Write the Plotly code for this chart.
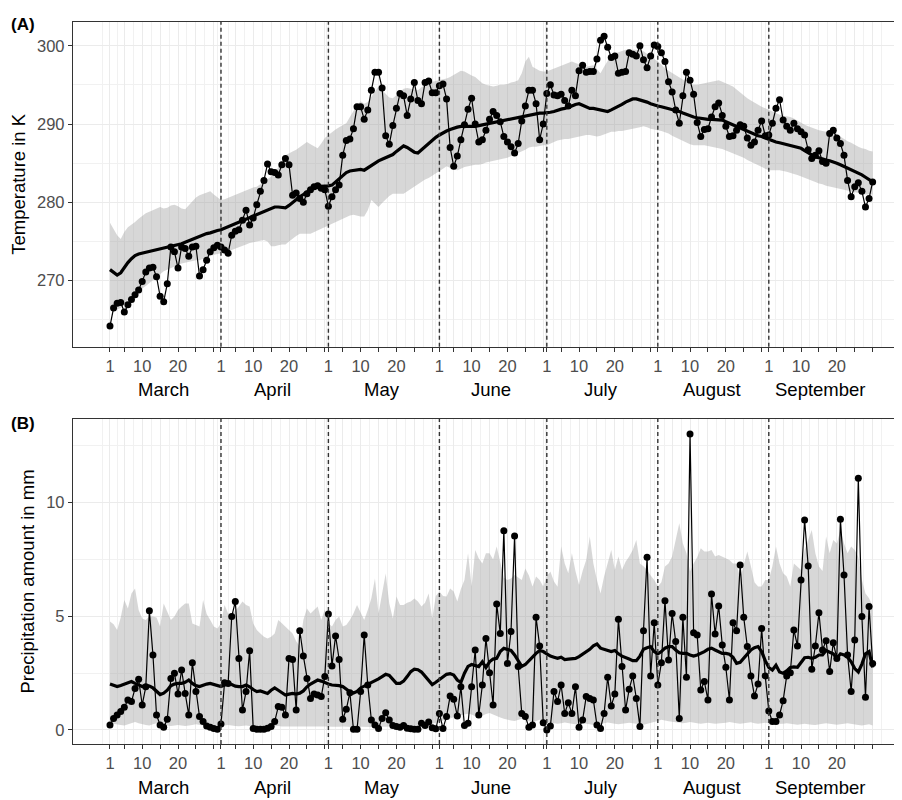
import plotly.graph_objects as go

# ---------------- categories / tick labels ----------------
month_names = ["March", "April", "May", "June", "July", "August", "September"]
month_lengths = [31, 30, 31, 30, 31, 31, 30]
tick_days = [1, 5, 10, 15, 20, 25, 30]
labelled_days = [1, 10, 20]
temp_major = [270, 280, 290, 300]
temp_minor = [265, 275, 285, 295]
prec_major = [0, 5, 10]
prec_minor = [2.5, 7.5, 12.5]

# ---------------- temperature (K) ----------------
t_obs = [
    264.2, 266.5, 267.1, 267.2, 266.0, 266.9, 267.6, 268.2, 268.8, 269.9,
    271.1, 271.6, 271.7, 270.5, 268.0, 267.3, 269.6, 274.3, 273.7, 271.6,
    274.3, 274.1, 273.1, 274.3, 274.4, 270.6, 271.4, 272.6, 273.7, 274.2, 274.5,
    274.3, 273.9, 273.5, 275.8, 276.3, 276.5, 277.7, 279.0, 277.1, 278.0,
    279.7, 281.4, 282.8, 284.9, 283.9, 283.8, 283.5, 284.8, 285.6, 284.8,
    280.9, 281.2, 280.5, 280.0, 281.1, 281.6, 282.0, 282.1, 281.8, 281.6,
    279.5, 280.7, 281.6, 282.2, 286.0, 287.9, 288.1, 289.4, 292.2, 292.2,
    290.6, 291.8, 294.3, 296.6, 296.6, 294.6, 288.5, 287.4, 289.8, 292.0,
    293.9, 293.6, 291.1, 293.2, 295.3, 293.0, 292.6, 295.3, 295.5, 294.0, 294.0,
    294.9, 295.1, 293.2, 287.0, 284.6, 285.9, 288.0, 289.9, 291.9, 293.3,
    290.0, 287.7, 288.0, 289.2, 290.6, 291.6, 291.1, 290.3, 288.4, 287.7,
    287.1, 286.3, 287.5, 290.4, 292.3, 294.3, 294.3, 292.6, 288.0, 290.0,
    293.9, 295.0, 293.7, 293.6, 293.8, 293.0, 292.3, 294.3, 293.6, 296.8,
    297.5, 296.6, 296.7, 296.7, 298.3, 300.7, 301.2, 299.8, 298.5, 298.7,
    296.5, 296.6, 296.7, 299.1, 298.9, 298.7, 300.0, 298.2, 297.2, 298.7, 300.1,
    299.9, 299.1, 298.0, 295.4, 294.1, 291.8, 290.1, 293.6, 296.6, 295.6,
    293.8, 290.2, 288.4, 289.3, 289.4, 290.9, 292.2, 292.7, 291.1, 289.7,
    288.4, 288.5, 289.2, 289.9, 289.7, 288.2, 287.3, 287.7, 289.2, 290.4, 288.5,
    288.6, 290.1, 292.0, 293.1, 290.5, 289.7, 289.2, 290.1, 289.4, 289.0,
    288.6, 286.7, 285.6, 286.0, 286.6, 285.2, 285.0, 288.8, 289.2, 288.2,
    287.5, 286.0, 282.8, 280.7, 282.0, 282.5, 281.4, 279.4, 280.5, 282.6,
]
t_mean = [
    271.4, 271.0, 270.7, 271.0, 271.7, 272.3, 272.8, 273.2, 273.4, 273.5,
    273.6, 273.7, 273.8, 273.9, 274.0, 274.1, 274.2, 274.3, 274.4, 274.5,
    274.7, 274.9, 275.1, 275.3, 275.5, 275.6, 275.8, 276.0, 276.1, 276.3, 276.4,
    276.5, 276.7, 276.9, 277.1, 277.3, 277.5, 277.6, 277.8, 278.0, 278.2,
    278.4, 278.6, 278.8, 279.0, 279.2, 279.4, 279.4, 279.3, 279.3, 279.6,
    280.0, 280.4, 280.7, 281.0, 281.3, 281.6, 281.9, 282.0, 282.0, 282.1,
    282.1, 282.2, 282.6, 283.1, 283.5, 283.8, 284.0, 284.1, 284.2, 284.2,
    284.1, 284.4, 284.8, 285.1, 285.3, 285.5, 285.7, 285.9, 286.1, 286.5,
    286.9, 287.2, 287.0, 286.7, 286.4, 286.3, 286.7, 287.2, 287.6, 288.0, 288.3,
    288.6, 288.9, 289.1, 289.3, 289.5, 289.6, 289.7, 289.7, 289.6, 289.6,
    289.7, 289.8, 289.9, 290.0, 290.1, 290.2, 290.3, 290.4, 290.5, 290.6,
    290.7, 290.8, 290.9, 291.0, 291.1, 291.2, 291.3, 291.3, 291.4, 291.4,
    291.4, 291.5, 291.6, 291.8, 291.9, 292.0, 292.1, 292.3, 292.5, 292.6,
    292.4, 292.2, 292.0, 292.0, 291.9, 291.9, 291.7, 291.6, 291.8, 292.0,
    292.2, 292.5, 292.8, 293.0, 293.2, 293.2, 293.1, 293.0, 292.8, 292.6, 292.4,
    292.3, 292.2, 292.1, 292.0, 291.9, 291.8, 291.6, 291.4, 291.2, 291.0,
    290.9, 290.8, 290.7, 290.6, 290.6, 290.6, 290.6, 290.6, 290.5, 290.3,
    290.1, 289.9, 289.7, 289.5, 289.2, 289.0, 288.8, 288.6, 288.5, 288.4, 288.2,
    288.0, 287.9, 287.7, 287.6, 287.5, 287.4, 287.3, 287.2, 287.0, 286.9,
    286.6, 286.3, 286.0, 285.8, 285.7, 285.5, 285.4, 285.3, 285.2, 285.0,
    284.8, 284.6, 284.3, 284.1, 283.9, 283.7, 283.5, 283.2, 282.9, 282.6,
]
t_hi = [
    277.4, 276.5, 275.8, 275.3, 276.2, 276.8, 277.1, 277.5, 277.9, 278.3,
    278.6, 278.8, 279.0, 279.3, 279.4, 279.2, 279.3, 279.6, 279.7, 279.5,
    279.2, 279.1, 279.6, 280.2, 280.6, 280.9, 281.1, 281.3, 281.4, 281.0, 280.6,
    280.3, 280.4, 280.6, 280.7, 280.9, 281.2, 281.4, 281.6, 281.8, 281.9,
    282.0, 282.3, 282.6, 283.0, 283.3, 283.7, 284.6, 285.3, 286.0, 286.3,
    286.5, 286.7, 287.0, 287.4, 287.7, 287.4, 287.1, 286.9, 287.5, 288.2,
    288.6, 289.0, 289.3, 289.6, 289.9, 290.1, 290.9, 291.6, 292.4, 292.9,
    292.6, 292.8, 293.5, 294.2, 294.8, 294.3, 293.8, 293.4, 293.3, 293.7,
    294.1, 294.5, 294.6, 294.5, 294.4, 294.3, 294.7, 295.0, 295.2, 295.4, 295.5,
    295.6, 295.7, 295.8, 296.0, 296.3, 296.6, 296.8, 296.7, 296.4, 296.2,
    296.0, 295.6, 295.2, 295.0, 294.9, 294.8, 294.9, 295.0, 295.0, 295.1,
    295.3, 295.4, 295.6, 296.5, 298.0, 298.6, 297.3, 297.0, 296.8, 296.7,
    296.7, 296.9, 297.1, 297.3, 297.5, 297.7, 297.9, 298.0, 297.8, 297.6,
    297.4, 297.3, 297.4, 297.5, 297.0, 296.5, 297.3, 298.1, 298.8, 299.0,
    299.2, 299.4, 299.5, 299.5, 299.5, 299.5, 299.5, 299.3, 299.0, 298.7, 298.4,
    298.0, 297.6, 297.1, 296.8, 296.5, 296.2, 296.0, 295.7, 295.4, 295.1,
    295.0, 295.0, 295.1, 295.2, 295.3, 295.4, 295.5, 295.6, 295.4, 295.2,
    295.0, 294.8, 294.4, 294.0, 293.6, 293.3, 293.0, 292.7, 292.4, 292.2, 292.0,
    291.8, 291.6, 291.4, 291.1, 291.0, 291.0, 290.9, 290.7, 290.4, 290.2,
    289.9, 289.7, 289.5, 289.4, 289.2, 289.1, 289.0, 289.0, 289.0, 288.7,
    288.4, 288.0, 287.8, 287.6, 287.3, 287.1, 286.9, 286.8, 286.6, 286.5,
]
t_lo = [
    266.7, 266.5, 266.3, 266.5, 267.0, 267.5, 268.0, 268.3, 268.7, 269.0,
    269.3, 269.6, 270.0, 270.4, 270.8, 271.2, 271.4, 271.6, 271.8, 272.0,
    272.2, 272.3, 272.4, 272.5, 272.6, 272.6, 272.8, 273.0, 273.1, 273.3, 273.4,
    273.5, 273.6, 273.8, 273.9, 274.1, 274.3, 274.4, 274.6, 274.8, 274.9,
    275.0, 275.1, 275.2, 275.0, 274.4, 274.4, 274.5, 274.6, 274.6, 275.0,
    275.4, 275.7, 276.0, 276.0, 276.0, 276.0, 276.2, 276.5, 276.7, 276.9,
    277.1, 277.3, 277.5, 277.7, 277.9, 278.1, 278.3, 278.4, 278.3, 278.2,
    278.2, 279.0, 280.3, 279.8, 279.4, 279.9, 280.4, 280.8, 281.1, 281.1,
    281.1, 281.1, 281.4, 281.8, 282.1, 282.4, 282.6, 282.9, 283.1, 283.3, 283.7,
    284.0, 284.3, 284.6, 284.4, 284.2, 284.1, 284.3, 284.5, 284.6, 284.7,
    284.8, 284.8, 284.9, 285.1, 285.2, 285.3, 285.4, 285.5, 285.6, 285.7,
    285.8, 286.0, 286.2, 286.5, 286.7, 287.0, 287.1, 287.1, 287.2, 287.3,
    287.3, 287.5, 287.7, 287.9, 288.0, 288.1, 288.1, 288.2, 288.3, 288.4,
    288.5, 288.6, 288.6, 288.5, 288.4, 288.5, 288.7, 288.8, 289.0, 289.0,
    289.1, 289.1, 289.2, 289.3, 289.4, 289.5, 289.6, 289.7, 289.6, 289.4, 289.3,
    289.2, 289.1, 289.0, 288.8, 288.5, 288.3, 288.0, 287.8, 287.6, 287.4,
    287.3, 287.3, 287.3, 287.3, 287.2, 287.1, 287.0, 286.9, 286.8, 286.6,
    286.5, 286.3, 286.1, 285.9, 285.7, 285.4, 285.2, 284.9, 284.7, 284.5, 284.3,
    284.1, 284.1, 284.1, 284.1, 284.0, 283.9, 283.8, 283.6, 283.5, 283.3,
    283.1, 283.0, 282.8, 282.6, 282.4, 282.3, 282.1, 282.0, 281.9, 281.8,
    281.7, 281.6, 281.5, 281.4, 281.3, 281.2, 281.1, 281.0, 281.0, 281.0,
]

# ---------------- precipitation (mm) ----------------
p_obs = [
    0.22, 0.51, 0.66, 0.81, 1.0, 1.32, 1.25, 1.83, 2.23, 1.1,
    1.9, 5.25, 3.3, 0.66, 0.22, 0.12, 0.47, 2.27, 2.5, 1.58,
    2.64, 1.61, 0.66, 2.96, 1.69, 0.59, 0.37, 0.18, 0.12, 0.07, 0.03,
    0.26, 2.08, 2.05, 4.99, 5.65, 3.15, 0.88, 1.69, 3.49, 0.07,
    0.03, 0.03, 0.03, 0.08, 0.15, 0.37, 1.03, 1.0, 0.66, 3.15,
    3.1, 0.88, 4.37, 3.26, 2.27, 1.39, 1.58, 1.54, 1.47, 2.35,
    5.1, 2.82, 4.14, 3.1, 0.47, 0.91, 1.64, 0.03, 0.03, 1.69,
    4.18, 1.98, 0.44, 0.22, 0.07, 0.51, 0.76, 0.44, 0.2, 0.15,
    0.12, 0.2, 0.08, 0.05, 0.03, 0.03, 0.3, 0.2, 0.35, 0.1, 0.05,
    0.73, 0.07, 0.59, 1.5, 1.35, 0.62, 1.9, 0.2, 0.3, 1.9,
    3.52, 0.66, 1.98, 4.03, 2.52, 1.1, 5.54, 4.25, 8.77, 2.93,
    4.33, 8.53, 2.79, 0.73, 0.59, 0.12, 0.22, 4.96, 3.7, 0.32,
    0.0, 0.18, 1.69, 1.25, 1.98, 0.73, 1.2, 0.73, 1.9, 0.12,
    0.44, 1.47, 1.39, 1.32, 0.22, 0.07, 0.73, 2.32, 1.06, 1.58,
    4.87, 2.79, 0.88, 1.79, 2.38, 1.39, 0.15, 4.37, 7.6, 2.38, 4.72,
    1.98, 2.96, 5.69, 3.08, 5.13, 3.89, 0.51, 4.96, 2.32, 13.02,
    4.28, 4.18, 1.76, 2.13, 1.32, 5.98, 4.22, 5.46, 3.74, 2.76,
    1.32, 4.72, 4.37, 7.26, 4.96, 3.67, 2.38, 1.5, 2.02, 4.47, 2.38,
    0.84, 0.37, 0.37, 0.66, 1.29, 2.38, 2.52, 4.4, 3.7, 6.6,
    9.24, 7.22, 2.67, 3.7, 5.16, 3.52, 3.93, 2.57, 3.84, 3.15,
    9.27, 6.82, 3.3, 1.69, 3.96, 11.07, 4.99, 1.44, 5.43, 2.93,
]
p_mean = [
    2.02, 1.95, 1.91, 1.96, 2.02, 2.08, 2.13, 2.05, 1.98, 1.91,
    1.95, 1.93, 1.85, 1.7, 1.56, 1.62, 1.75, 1.95, 2.02, 2.05,
    2.05, 2.1, 2.2, 2.05, 1.95, 1.91, 1.97, 2.02, 2.05, 2.0, 1.95,
    1.91, 1.98, 2.05, 2.0, 1.93, 1.91, 1.91, 1.98, 1.9, 1.78,
    1.69, 1.72, 1.65, 1.61, 1.75, 1.85, 1.75, 1.65, 1.54, 1.58,
    1.61, 1.58, 1.62, 1.72, 1.9, 2.02, 2.13, 2.2, 2.15, 2.08,
    2.02, 1.98, 1.98, 1.95, 1.91, 1.8, 1.68, 1.63, 1.7, 1.85,
    1.93, 1.98, 2.08, 2.15, 2.25, 2.35, 2.45, 2.4, 2.2, 2.05,
    2.05, 2.15, 2.35, 2.57, 2.68, 2.65, 2.55, 2.38, 2.2, 2.0, 2.1,
    2.22, 2.35, 2.45, 2.48, 2.42, 2.2, 2.1, 2.5, 2.8, 2.88,
    2.82, 2.79, 3.0, 2.75, 3.0, 3.12, 3.15, 3.45, 3.59, 3.55,
    3.5, 3.3, 3.05, 2.8, 2.88, 3.05, 3.2, 3.37, 3.5, 3.45,
    3.35, 3.25, 3.2, 3.15, 3.2, 3.1, 3.12, 3.15, 3.15, 3.23,
    3.33, 3.45, 3.55, 3.7, 3.78, 3.6, 3.55, 3.5, 3.45, 3.5,
    3.35, 3.25, 3.2, 3.12, 3.05, 3.05, 3.25, 3.55, 3.62, 3.67, 3.45,
    3.35, 3.45, 3.6, 3.67, 3.67, 3.52, 3.4, 3.37, 3.37, 3.3,
    3.25, 3.3, 3.37, 3.45, 3.55, 3.6, 3.52, 3.45, 3.37, 3.37,
    3.33, 3.2, 2.93, 2.98, 3.15, 3.35, 3.52, 3.62, 3.67, 3.45, 3.05,
    2.75, 2.64, 2.85, 2.55, 2.5, 2.6, 2.75, 2.78, 2.76, 3.0,
    3.18, 3.2, 3.15, 3.2, 3.3, 3.3, 3.5, 3.42, 3.35, 3.15,
    3.35, 3.3, 3.2, 3.0, 2.7, 2.55, 2.9, 3.35, 3.45, 2.75,
]
p_hi = [
    4.77, 4.65, 4.4, 4.95, 5.72, 5.35, 6.01, 6.23, 5.28, 4.9,
    4.84, 5.0, 4.99, 4.95, 4.55, 5.57, 5.2, 4.84, 4.99, 5.28,
    5.43, 5.57, 5.57, 4.69, 4.62, 4.55, 5.72, 5.1, 4.84, 4.55, 4.47,
    4.7, 5.5, 5.13, 5.13, 5.25, 5.43, 5.65, 5.5, 5.43, 4.69,
    4.4, 4.25, 4.1, 4.03, 4.1, 4.25, 4.84, 4.7, 4.55, 4.4,
    4.25, 3.9, 3.67, 4.84, 5.35, 5.13, 5.3, 5.43, 4.84, 5.3,
    4.7, 4.55, 4.84, 4.99, 4.55, 4.62, 4.84, 5.13, 5.5, 5.2,
    4.84, 5.28, 5.8, 6.67, 5.13, 6.0, 6.89, 5.57, 4.91, 5.87,
    5.5, 5.5, 5.6, 5.65, 5.79, 5.65, 5.43, 5.6, 6.01, 4.91, 5.9,
    6.09, 5.9, 5.87, 6.23, 6.09, 5.65, 6.2, 6.6, 7.77, 6.31,
    7.92, 7.55, 7.33, 7.77, 7.77, 7.5, 8.07, 7.33, 6.7, 6.6,
    6.67, 6.82, 6.7, 6.6, 7.11, 6.8, 6.31, 6.75, 6.6, 6.31,
    6.75, 6.97, 6.53, 6.3, 8.07, 7.33, 6.9, 7.77, 7.0, 6.38,
    7.0, 7.48, 8.51, 7.33, 6.6, 6.01, 6.75, 7.4, 7.92, 7.04,
    7.63, 7.04, 7.4, 7.63, 7.92, 8.36, 7.33, 7.2, 7.04, 6.8, 6.6,
    6.31, 6.5, 7.19, 7.33, 7.63, 8.36, 9.09, 8.2, 7.77, 6.97,
    7.33, 7.6, 7.99, 7.85, 7.85, 7.92, 7.63, 7.7, 7.63, 7.55,
    7.48, 7.33, 7.33, 6.67, 7.33, 7.85, 7.2, 6.5, 6.31, 6.31, 6.6,
    6.6, 7.2, 8.07, 7.33, 6.9, 6.75, 6.31, 7.33, 7.2, 7.04,
    7.92, 8.4, 8.8, 7.77, 7.19, 7.0, 8.51, 7.77, 8.36, 8.2,
    8.8, 8.2, 7.77, 8.07, 7.92, 7.6, 6.6, 6.01, 5.8, 5.43,
]
p_lo = [
    0.3, 0.28, 0.25, 0.22, 0.2, 0.24, 0.3, 0.35, 0.3, 0.25,
    0.22, 0.2, 0.25, 0.3, 0.28, 0.22, 0.2, 0.18, 0.2, 0.22,
    0.2, 0.18, 0.2, 0.22, 0.25, 0.22, 0.2, 0.18, 0.2, 0.22, 0.2,
    0.18, 0.2, 0.22, 0.2, 0.18, 0.16, 0.18, 0.2, 0.18, 0.15,
    0.15, 0.17, 0.15, 0.14, 0.15, 0.16, 0.18, 0.15, 0.14, 0.16,
    0.15, 0.14, 0.15, 0.16, 0.15, 0.14, 0.13, 0.15, 0.14, 0.15,
    0.15, 0.14, 0.13, 0.14, 0.15, 0.16, 0.14, 0.13, 0.12, 0.14,
    0.15, 0.14, 0.13, 0.14, 0.16, 0.15, 0.14, 0.15, 0.16, 0.15,
    0.14, 0.15, 0.17, 0.16, 0.15, 0.18, 0.2, 0.22, 0.25, 0.28, 0.3,
    0.35, 0.4, 0.45, 0.5, 0.55, 0.6, 0.65, 0.7, 0.72, 0.68,
    0.6, 0.55, 0.62, 0.7, 0.75, 0.7, 0.62, 0.55, 0.5, 0.45,
    0.42, 0.4, 0.45, 0.5, 0.42, 0.38, 0.35, 0.4, 0.45, 0.4,
    0.36, 0.32, 0.3, 0.28, 0.3, 0.33, 0.3, 0.28, 0.25, 0.28,
    0.3, 0.27, 0.25, 0.22, 0.25, 0.28, 0.3, 0.33, 0.3, 0.27,
    0.25, 0.28, 0.3, 0.32, 0.3, 0.27, 0.25, 0.23, 0.25, 0.3, 0.35,
    0.4, 0.45, 0.42, 0.38, 0.35, 0.33, 0.32, 0.3, 0.32, 0.35,
    0.33, 0.3, 0.28, 0.3, 0.32, 0.3, 0.28, 0.27, 0.3, 0.32,
    0.35, 0.33, 0.3, 0.28, 0.3, 0.32, 0.34, 0.3, 0.28, 0.3, 0.32,
    0.3, 0.28, 0.26, 0.25, 0.27, 0.3, 0.28, 0.25, 0.23, 0.25,
    0.27, 0.25, 0.23, 0.22, 0.25, 0.28, 0.3, 0.27, 0.25, 0.23,
    0.25, 0.28, 0.3, 0.27, 0.25, 0.22, 0.2, 0.22, 0.25, 0.2,
]

# ---------------- derived positions ----------------
n_days = sum(month_lengths)
days = list(range(n_days))
month_start = []
acc = 0
for L in month_lengths:
    month_start.append(acc)
    acc += L

tickvals, ticktext = [], []
for st, L in zip(month_start, month_lengths):
    for d in tick_days:
        if d <= L:
            tickvals.append(st + d - 1)
            ticktext.append(str(d) if d in labelled_days else "")
minor_x = [(a + b) / 2 for a, b in zip(tickvals[:-1], tickvals[1:])]
minor_x = ([tickvals[0] - (tickvals[1] - tickvals[0]) / 2] + minor_x
           + [tickvals[-1] + (tickvals[-1] - tickvals[-2]) / 2])

FONT = "Liberation Sans, Arial, Helvetica, sans-serif"
BAND = "rgba(160,160,160,0.42)"
AX = "#333333"
GRID = "#ebebeb"
GRID_MINOR = "#f1f1f1"

fig = go.Figure()


def add_panel(obs, mean, lo, hi, xa, ya):
    xs = days[:len(hi)]
    fig.add_trace(go.Scatter(
        x=xs + xs[::-1], y=hi + lo[::-1], fill="toself", fillcolor=BAND,
        line=dict(width=0), mode="lines", hoverinfo="skip", showlegend=False,
        xaxis=xa, yaxis=ya))
    fig.add_trace(go.Scatter(
        x=days[:len(mean)], y=mean, mode="lines",
        line=dict(color="black", width=3.2), showlegend=False,
        xaxis=xa, yaxis=ya))
    fig.add_trace(go.Scatter(
        x=days[:len(obs)], y=obs, mode="lines+markers",
        line=dict(color="black", width=1.2),
        marker=dict(color="black", size=7), showlegend=False,
        xaxis=xa, yaxis=ya))


add_panel(t_obs, t_mean, t_lo, t_hi, "x", "y")
add_panel(p_obs, p_mean, p_lo, p_hi, "x2", "y2")

xrange = [-10.33, 221.2]
top_dom = [0.5503, 1.0]
bot_dom = [0.0, 0.4501]

xcommon = dict(
    range=xrange, tickmode="array", tickvals=tickvals, ticktext=ticktext,
    ticks="outside", ticklen=4, tickwidth=1.1, tickcolor=AX,
    tickfont=dict(family=FONT, size=16.5, color="#4d4d4d"),
    showline=True, linecolor=AX, linewidth=1.3, mirror=True,
    showgrid=True, gridcolor=GRID, gridwidth=1.1, zeroline=False,
    minor=dict(tickmode="array", tickvals=minor_x, showgrid=True,
               gridcolor=GRID_MINOR, gridwidth=0.8, ticks=""),
)
ycommon = dict(
    ticks="outside", ticklen=4, tickwidth=1.1, tickcolor=AX,
    tickfont=dict(family=FONT, size=16.5, color="#4d4d4d"),
    showline=True, linecolor=AX, linewidth=1.3,
    showgrid=True, gridcolor=GRID, gridwidth=1.1, zeroline=False,
)

# the page adds an 8px body margin, so the figure is 8px smaller on each axis
fig.update_layout(
    width=894, height=792,
    margin=dict(l=65, r=0, t=14, b=56),
    paper_bgcolor="white", plot_bgcolor="white",
    font=dict(family=FONT, color="black"),
    showlegend=False,
    xaxis=dict(domain=[0, 1], anchor="y", **xcommon),
    xaxis2=dict(domain=[0, 1], anchor="y2", **xcommon),
    yaxis=dict(domain=top_dom, anchor="x", range=[261.56, 303.03],
               tickmode="array", tickvals=temp_major,
               minor=dict(tickmode="array", tickvals=temp_minor, showgrid=True,
                          gridcolor=GRID_MINOR, gridwidth=0.8, ticks=""),
               title=dict(text="Temperature in K", font=dict(family=FONT, size=18.5), standoff=6),
               **ycommon),
    yaxis2=dict(domain=bot_dom, anchor="x2", range=[-0.616, 13.68],
                tickmode="array", tickvals=prec_major,
                minor=dict(tickmode="array", tickvals=prec_minor, showgrid=True,
                           gridcolor=GRID_MINOR, gridwidth=0.8, ticks=""),
                title=dict(text="Precipitation amount in mm", font=dict(family=FONT, size=18.5), standoff=6),
                **ycommon),
)

# month separators (dashed) at the first day of each month after the first
for xa, ya in (("x", "y"), ("x2", "y2")):
    for st in month_start[1:]:
        fig.add_shape(type="line", xref=xa, yref=ya + " domain", x0=st, x1=st, y0=0, y1=1,
                      line=dict(color=AX, width=1.4, dash="4px,3px"), layer="above")

# month names under the day ticks
for dom, xa in ((top_dom, "x"), (bot_dom, "x2")):
    for name, st, L in zip(month_names, month_start, month_lengths):
        fig.add_annotation(text=name, x=st + (L - 1) / 2, xref=xa, y=dom[0], yref="paper",
                           yanchor="middle", yshift=-43, showarrow=False,
                           font=dict(family=FONT, size=18.5, color="black"))

# panel tags
fig.add_annotation(text="<b>(A)</b>", x=0, xref="paper", xshift=-64, xanchor="left",
                   y=top_dom[1], yref="paper", yanchor="middle", yshift=-2,
                   showarrow=False, font=dict(family=FONT, size=17, color="black"))
fig.add_annotation(text="<b>(B)</b>", x=0, xref="paper", xshift=-64, xanchor="left",
                   y=bot_dom[1], yref="paper", yanchor="middle", yshift=-4,
                   showarrow=False, font=dict(family=FONT, size=17, color="black"))

fig.write_html("out.html")
